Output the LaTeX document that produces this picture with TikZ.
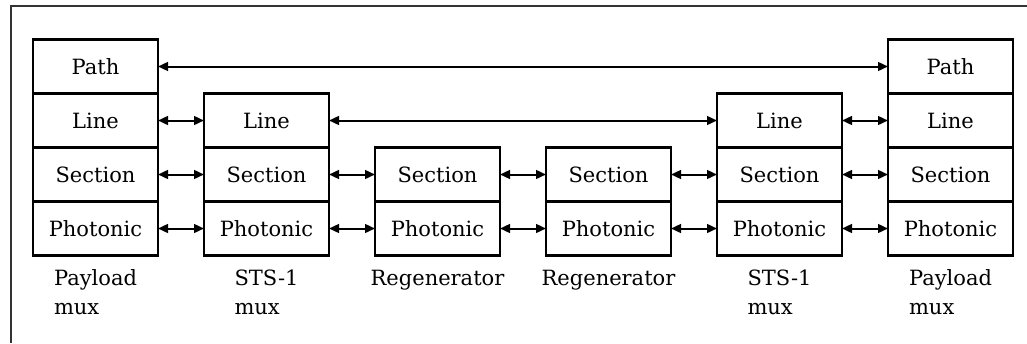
\documentclass[tikz,border=0pt]{standalone}
\usepackage{fontspec}
\setmainfont{DejaVu Serif}
\usepackage{tikz}
\usetikzlibrary{arrows.meta,positioning}
\tikzset{
  layer/.style={rectangle,draw=black,line width=1.3pt,outer sep=0pt,inner sep=0pt,
                minimum width=62.5pt,minimum height=27pt,
                font=\fontsize{10.5}{12}\selectfont},
  link/.style={<->,line width=1pt},
  devname/.style={align=left,inner sep=0pt,font=\fontsize{10.5}{14.5}\selectfont},
  frame/.style={line width=1pt,black!80},
}

\begin{document}
\begin{tikzpicture}[>={Triangle[length=5pt,width=4.4pt]},node distance=23pt]
  \useasboundingbox (0,0) rectangle (513.5pt,-171.5pt);
  \draw[frame] (5.5pt,-171.5pt) -- (5.5pt,-3pt) -- (513.5pt,-3pt);
  % payload mux (left)
  \node[layer] (pl-path) at (47.75pt,-33.25pt) {Path};
  \node[layer,below=0pt of pl-path] (pl-line) {Line};
  \node[layer,below=0pt of pl-line] (pl-sect) {Section};
  \node[layer,below=0pt of pl-sect] (pl-phot) {Photonic};
  % STS-1 mux (left)
  \node[layer,right=of pl-line] (sl-line) {Line};
  \node[layer,below=0pt of sl-line] (sl-sect) {Section};
  \node[layer,below=0pt of sl-sect] (sl-phot) {Photonic};
  % regenerators
  \node[layer,right=of sl-sect] (ra-sect) {Section};
  \node[layer,below=0pt of ra-sect] (ra-phot) {Photonic};
  \node[layer,right=of ra-sect] (rb-sect) {Section};
  \node[layer,below=0pt of rb-sect] (rb-phot) {Photonic};
  % STS-1 mux (right)
  \node[layer,right=of rb-sect] (sr-sect) {Section};
  \node[layer,above=0pt of sr-sect] (sr-line) {Line};
  \node[layer,below=0pt of sr-sect] (sr-phot) {Photonic};
  % payload mux (right)
  \node[layer,right=of sr-sect] (pr-sect) {Section};
  \node[layer,above=0pt of pr-sect] (pr-line) {Line};
  \node[layer,above=0pt of pr-line] (pr-path) {Path};
  \node[layer,below=0pt of pr-sect] (pr-phot) {Photonic};
  % device names
  \node[devname,below=7pt of pl-phot] (pl-name) {Payload\\mux};
  \node[devname,below=7pt of sl-phot] (sl-name) {STS-1\\mux};
  \node[devname,below=7pt of ra-phot] (ra-name) {Regenerator};
  \node[devname,below=7pt of rb-phot] (rb-name) {Regenerator};
  \node[devname,below=7pt of sr-phot] (sr-name) {STS-1\\mux};
  \node[devname,below=7pt of pr-phot] (pr-name) {Payload\\mux};
  % peer links
  \draw[link] (pl-path) -- (pr-path);
  \draw[link] (pl-line) -- (sl-line);
  \draw[link] (sl-line) -- (sr-line);
  \draw[link] (sr-line) -- (pr-line);
  \draw[link] (pl-sect) -- (sl-sect);
  \draw[link] (sl-sect) -- (ra-sect);
  \draw[link] (ra-sect) -- (rb-sect);
  \draw[link] (rb-sect) -- (sr-sect);
  \draw[link] (sr-sect) -- (pr-sect);
  \draw[link] (pl-phot) -- (sl-phot);
  \draw[link] (sl-phot) -- (ra-phot);
  \draw[link] (ra-phot) -- (rb-phot);
  \draw[link] (rb-phot) -- (sr-phot);
  \draw[link] (sr-phot) -- (pr-phot);
\end{tikzpicture}
\end{document}
